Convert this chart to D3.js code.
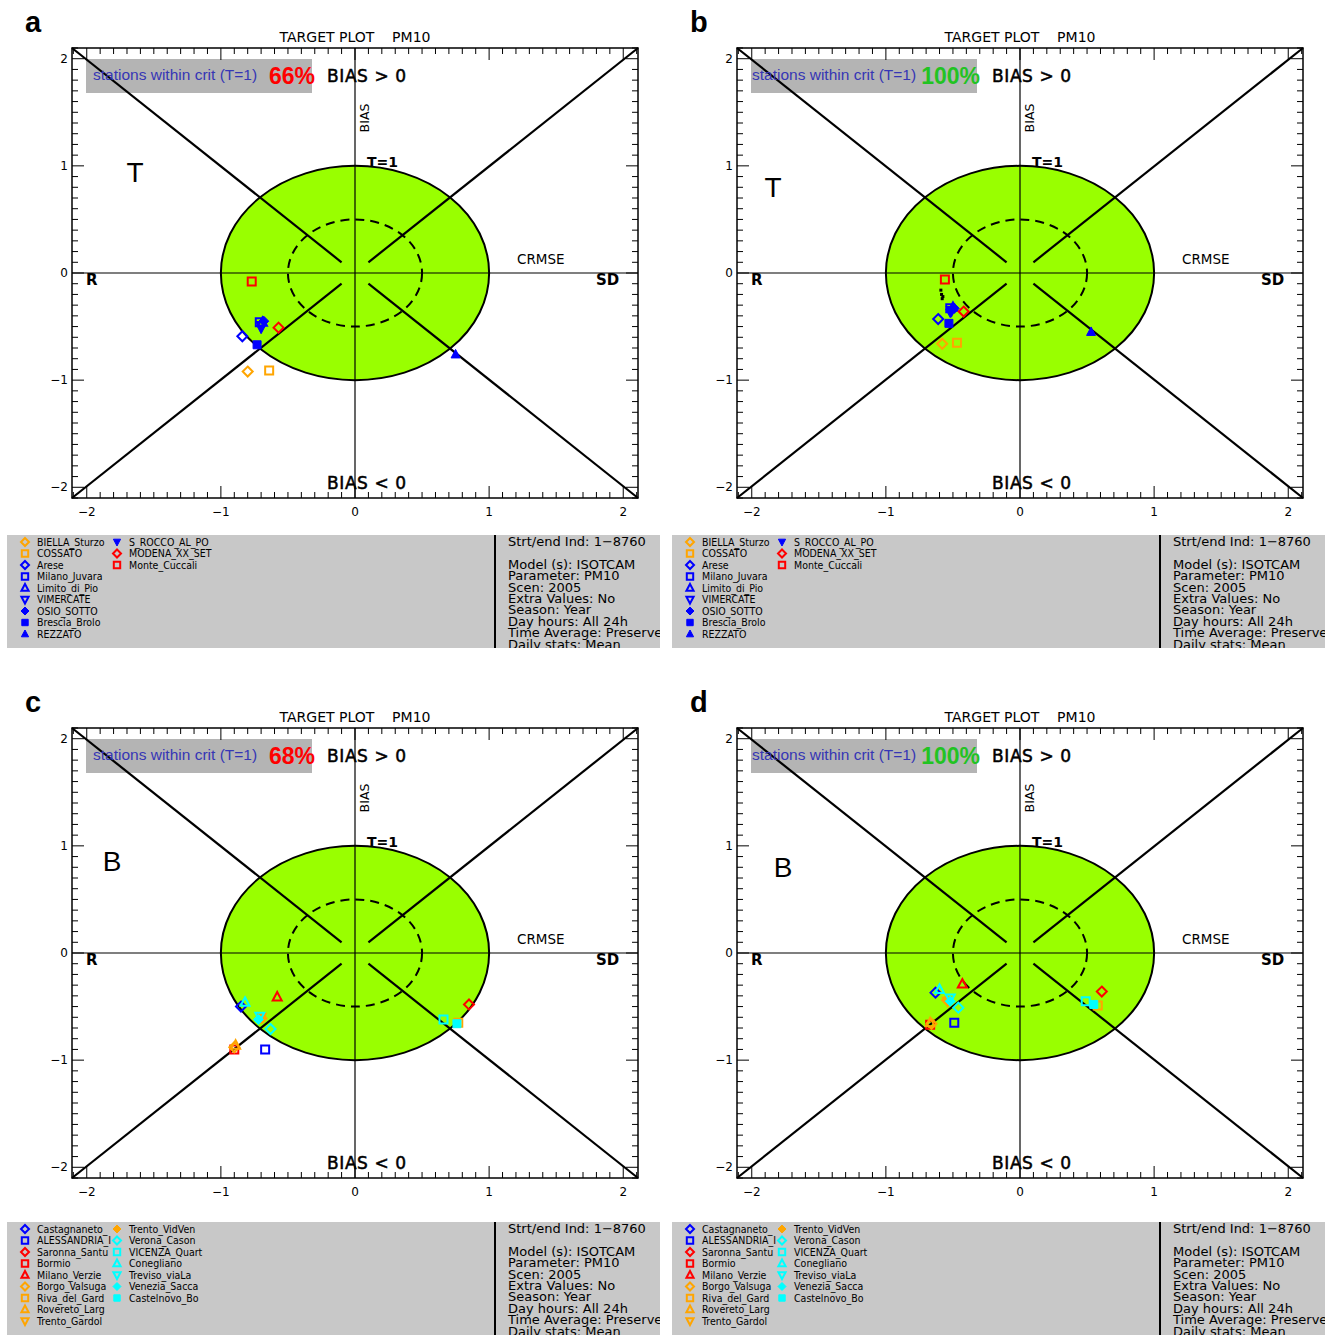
<!DOCTYPE html>
<html><head><meta charset="utf-8">
<script src="https://cdn.jsdelivr.net/npm/d3@7"></script>
<style>body{margin:0;background:#fff}svg{display:block}</style>
</head><body>
<svg id="chart" width="1332" height="1336"></svg>
<script>
// ---------- data ----------
const panelLetters = ["a", "b", "c", "d"];
const percentLabels = ["66%", "100%", "68%", "100%"];
const percentGood = [false, true, false, true];
const regimeLabels = ["T", "T", "B", "B"];
const xTickValues = [-2, -1, 0, 1, 2];
const yTickValues = [-2, -1, 0, 1, 2];
const titleText = "TARGET PLOT    PM10";
const infoLines = ["Strt/end Ind: 1\u22128760", "", "Model (s): ISOTCAM", "Parameter: PM10", "Scen: 2005",
  "Extra Values: No", "Season: Year", "Day hours: All 24h", "Time Average: Preserved", "Daily stats: Mean"];

// stations of panels a & b
const stationsT = ["BIELLA_Sturzo", "COSSATO", "Arese", "Milano_Juvara", "Limito_di_Pio", "VIMERCATE",
  "OSIO_SOTTO", "Brescia_Brolo", "REZZATO", "S_ROCCO_AL_PO", "MODENA_XX_SET", "Monte_Cuccali"];
const symbolsT = ["diamond", "square", "diamond", "square", "triangle", "triangleDown",
  "diamondFill", "squareFill", "triangleFill", "triangleDownFill", "diamond", "square"];
const colorsT = ["orange", "orange", "blue", "blue", "blue", "blue", "blue", "blue", "blue", "blue", "red", "red"];
const xA = [-0.80, -0.64, -0.84, -0.71, -0.69, -0.70, -0.68, -0.73, 0.75, -0.70, -0.57, -0.77];
const yA = [-0.92, -0.91, -0.59, -0.46, -0.46, -0.49, -0.45, -0.67, -0.76, -0.52, -0.51, -0.08];
const xB = [-0.58, -0.47, -0.61, -0.52, -0.50, -0.51, -0.49, -0.53, 0.53, -0.52, -0.42, -0.56];
const yB = [-0.66, -0.65, -0.43, -0.33, -0.32, -0.35, -0.33, -0.47, -0.55, -0.37, -0.36, -0.06];
const dotsBx = [-0.59, -0.585, -0.58, -0.575];
const dotsBy = [-0.16, -0.20, -0.24, -0.22];

// stations of panels c & d
const stationsB = ["Castagnaneto_", "ALESSANDRIA_I", "Saronna_Santu", "Bormio", "Milano_Verzie", "Borgo_Valsuga",
  "Riva_del_Gard", "Rovereto_Larg", "Trento_Gardol", "Trento_VidVen", "Verona_Cason", "VICENZA_Quart",
  "Conegliano", "Treviso_viaLa", "Venezia_Sacca", "Castelnovo_Bo"];
const symbolsB = ["diamond", "square", "diamond", "square", "triangle", "diamond", "square", "triangle",
  "triangleDown", "diamondFill", "diamond", "square", "triangle", "triangleDown", "diamondFill", "squareFill"];
const colorsB = ["blue", "blue", "red", "red", "red", "orange", "orange", "orange", "orange", "orange",
  "cyan", "cyan", "cyan", "cyan", "cyan", "cyan"];
const xC = [-0.85, -0.67, 0.85, -0.90, -0.58, -0.90, 0.77, -0.89, -0.70, -0.69, -0.63, 0.66, -0.82, -0.71, -0.72, 0.76];
const yC = [-0.50, -0.90, -0.48, -0.90, -0.41, -0.88, -0.65, -0.86, -0.60, -0.61, -0.71, -0.62, -0.46, -0.59, -0.62, -0.66];
const xD = [-0.63, -0.49, 0.61, -0.67, -0.43, -0.66, 0.58, -0.67, -0.54, -0.55, -0.46, 0.49, -0.60, -0.52, -0.52, 0.55];
const yD = [-0.37, -0.65, -0.36, -0.67, -0.29, -0.66, -0.49, -0.65, -0.45, -0.44, -0.51, -0.45, -0.34, -0.42, -0.45, -0.48];

const colorMap = {orange: "#ffa500", blue: "#0000ff", red: "#ff0000", cyan: "#00ffff"};

// ---------- drawing ----------
const svg = d3.select("#chart");

function markerPath(type, s) {
  const base = type.replace("Fill", "");
  const p = d3.path();
  if (base === "diamond") { p.moveTo(0, -s); p.lineTo(s, 0); p.lineTo(0, s); p.lineTo(-s, 0); p.closePath(); }
  else if (base === "square") { const h = s * 0.8; p.rect(-h, -h, 2 * h, 2 * h); }
  else if (base === "triangle") { p.moveTo(0, -s); p.lineTo(s * 0.9, s * 0.7); p.lineTo(-s * 0.9, s * 0.7); p.closePath(); }
  else if (base === "triangleDown") { p.moveTo(0, s); p.lineTo(s * 0.9, -s * 0.7); p.lineTo(-s * 0.9, -s * 0.7); p.closePath(); }
  return p.toString();
}
function drawMarker(g, type, color, cx, cy, s) {
  const filled = type.endsWith("Fill");
  g.append("path").attr("d", markerPath(type, s)).attr("transform", `translate(${cx},${cy})`)
    .attr("fill", filled ? colorMap[color] : "none")
    .attr("stroke", colorMap[color]).attr("stroke-width", filled ? 1 : 2);
}

const panels = [
  {ox: 0, oy: 0, legTop: 535, names: stationsT, syms: symbolsT, cols: colorsT, xs: xA, ys: yA, regime: [135, 182], statX: 93},
  {ox: 665, oy: 0, legTop: 535, names: stationsT, syms: symbolsT, cols: colorsT, xs: xB, ys: yB, regime: [108, 197], statX: 87, dots: true},
  {ox: 0, oy: 680, legTop: 542, names: stationsB, syms: symbolsB, cols: colorsB, xs: xC, ys: yC, regime: [112, 191], statX: 93},
  {ox: 665, oy: 680, legTop: 542, names: stationsB, syms: symbolsB, cols: colorsB, xs: xD, ys: yD, regime: [118, 197], statX: 87}
];

const FONT = "'DejaVu Sans', Arial, sans-serif";

panels.forEach((P, i) => {
  const g = svg.append("g").attr("transform", `translate(${P.ox},${P.oy})`);
  const x = d3.scaleLinear().domain([-2.11, 2.11]).range([72, 638]);
  const y = d3.scaleLinear().domain([-2.1, 2.1]).range([498, 48]);

  // panel letter
  g.append("text").attr("x", 25).attr("y", 32).text(panelLetters[i])
    .attr("font-family", "Arial, 'Liberation Sans', sans-serif").attr("font-weight", "bold").attr("font-size", 29);
  // title
  g.append("text").attr("x", 355).attr("y", 42).attr("text-anchor", "middle").text(titleText)
    .attr("font-family", FONT).attr("font-size", 14).attr("xml:space", "preserve").style("white-space", "pre");

  // gray box
  g.append("rect").attr("x", 86).attr("y", 59).attr("width", 226).attr("height", 34).attr("fill", "#b4b4b4");

  // ellipse T=1
  g.append("ellipse").attr("cx", x(0)).attr("cy", y(0)).attr("rx", x(1) - x(0)).attr("ry", y(0) - y(1))
    .attr("fill", "#99ff00").attr("stroke", "#000").attr("stroke-width", 2);
  // dashed T=0.5
  g.append("ellipse").attr("cx", x(0)).attr("cy", y(0)).attr("rx", x(0.5) - x(0)).attr("ry", y(0) - y(0.5))
    .attr("fill", "none").attr("stroke", "#000").attr("stroke-width", 2).attr("stroke-dasharray", "9,6");

  // axes through origin
  g.append("line").attr("x1", x(-2.11)).attr("x2", x(2.11)).attr("y1", y(0)).attr("y2", y(0)).attr("stroke", "#000").attr("stroke-width", 1.2);
  g.append("line").attr("x1", x(0)).attr("x2", x(0)).attr("y1", y(-2.1)).attr("y2", y(2.1)).attr("stroke", "#000").attr("stroke-width", 1.2);

  // diagonals
  [[-1, 1], [1, 1], [-1, -1], [1, -1]].forEach(([sx, sy]) => {
    g.append("line").attr("x1", x(0.1 * sx)).attr("y1", y(0.1 * sy)).attr("x2", x(2.11 * sx)).attr("y2", y(2.1 * sy))
      .attr("stroke", "#000").attr("stroke-width", 2.2);
  });

  // frame
  g.append("rect").attr("x", 72).attr("y", 48).attr("width", 566).attr("height", 450)
    .attr("fill", "none").attr("stroke", "#000").attr("stroke-width", 1.5);
  // ticks
  const tv = d3.range(-21, 22).map(v => v / 10);
  tv.forEach(v => {
    const major = Math.abs(v - Math.round(v)) < 1e-9;
    const L = major ? 12 : 6;
    g.append("line").attr("x1", x(v)).attr("x2", x(v)).attr("y1", 498).attr("y2", 498 - L).attr("stroke", "#000");
    g.append("line").attr("x1", x(v)).attr("x2", x(v)).attr("y1", 48).attr("y2", 48 + L).attr("stroke", "#000");
    g.append("line").attr("y1", y(v)).attr("y2", y(v)).attr("x1", 72).attr("x2", 72 + L).attr("stroke", "#000");
    g.append("line").attr("y1", y(v)).attr("y2", y(v)).attr("x1", 638).attr("x2", 638 - L).attr("stroke", "#000");
  });
  xTickValues.forEach(v => {
    g.append("text").attr("x", x(v)).attr("y", 516).attr("text-anchor", "middle").text(v < 0 ? "\u2212" + Math.abs(v) : v)
      .attr("font-family", FONT).attr("font-size", 12);
  });
  yTickValues.forEach(v => {
    g.append("text").attr("x", 68).attr("y", y(v) + 4).attr("text-anchor", "end").text(v < 0 ? "\u2212" + Math.abs(v) : v)
      .attr("font-family", FONT).attr("font-size", 12);
  });

  // labels
  g.append("text").attr("x", P.statX).attr("y", 80).text("stations within crit (T=1)")
    .attr("font-family", "'Liberation Sans', Arial, sans-serif").attr("font-size", 15.5).attr("fill", "#3636b4");
  g.append("text").attr("x", 315).attr("y", 84).attr("text-anchor", "end").text(percentLabels[i])
    .attr("font-family", "'Liberation Sans', Arial, sans-serif").attr("font-weight", "bold").attr("font-size", 23)
    .attr("fill", percentGood[i] ? "#22c322" : "#ff0000");
  g.append("text").attr("x", 327).attr("y", 82).text("BIAS > 0")
    .attr("font-family", FONT).attr("font-size", 17).attr("letter-spacing", 0.6).attr("stroke", "#000").attr("stroke-width", 0.5);
  g.append("text").attr("x", 327).attr("y", 489).text("BIAS < 0")
    .attr("font-family", FONT).attr("font-size", 17).attr("letter-spacing", 0.6).attr("stroke", "#000").attr("stroke-width", 0.5);
  g.append("text").attr("transform", "translate(369,118) rotate(-90)").attr("text-anchor", "middle").text("BIAS")
    .attr("font-family", FONT).attr("font-size", 12.5);
  g.append("text").attr("x", 367).attr("y", 167).text("T=1")
    .attr("font-family", FONT).attr("font-weight", "bold").attr("font-size", 14);
  g.append("text").attr("x", 517).attr("y", 264).text("CRMSE").attr("font-family", FONT).attr("font-size", 13.5);
  g.append("text").attr("x", 596).attr("y", 285).text("SD").attr("font-family", FONT).attr("font-weight", "bold").attr("font-size", 15);
  g.append("text").attr("x", 86).attr("y", 285).text("R").attr("font-family", FONT).attr("font-weight", "bold").attr("font-size", 15);
  g.append("text").attr("x", P.regime[0]).attr("y", P.regime[1]).attr("text-anchor", "middle").text(regimeLabels[i])
    .attr("font-family", "Arial, 'Liberation Sans', sans-serif").attr("font-size", 28);

  // station markers
  P.names.forEach((n, k) => {
    drawMarker(g, P.syms[k], P.cols[k], x(P.xs[k]), y(P.ys[k]), 5);
  });
  if (P.dots) {
    dotsBx.forEach((dx, k) => {
      g.append("rect").attr("x", x(dx) - 1.5).attr("y", y(dotsBy[k]) - 1.5).attr("width", 3).attr("height", 3).attr("fill", "#000");
    });
  }

  // legend box
  const lt = P.legTop;
  const clipId = "clip" + i;
  g.append("clipPath").attr("id", clipId).append("rect").attr("x", 7).attr("y", lt).attr("width", 653).attr("height", 113);
  const lg = g.append("g").attr("clip-path", `url(#${clipId})`);
  lg.append("rect").attr("x", 7).attr("y", lt).attr("width", 653).attr("height", 113).attr("fill", "#c8c8c8");
  lg.append("line").attr("x1", 495).attr("x2", 495).attr("y1", lt).attr("y2", lt + 113).attr("stroke", "#000").attr("stroke-width", 2);
  P.names.forEach((n, k) => {
    const col = k < 9 ? 0 : 1;
    const row = k < 9 ? k : k - 9;
    const cy = lt + 7 + row * 11.5;
    const mx = col === 0 ? 25 : 117;
    drawMarker(lg, P.syms[k], P.cols[k], mx, cy, 4);
    lg.append("text").attr("x", mx + 12).attr("y", cy + 3.5).text(n)
      .attr("font-family", "'DejaVu Sans Condensed', 'DejaVu Sans', sans-serif").attr("font-stretch", "condensed")
      .attr("font-size", 10.5);
  });
  infoLines.forEach((t, k) => {
    if (!t) return;
    lg.append("text").attr("x", 508).attr("y", lt + 11 + k * 11.4).text(t)
      .attr("font-family", FONT).attr("font-size", 13);
  });
});
</script>
</body></html>
